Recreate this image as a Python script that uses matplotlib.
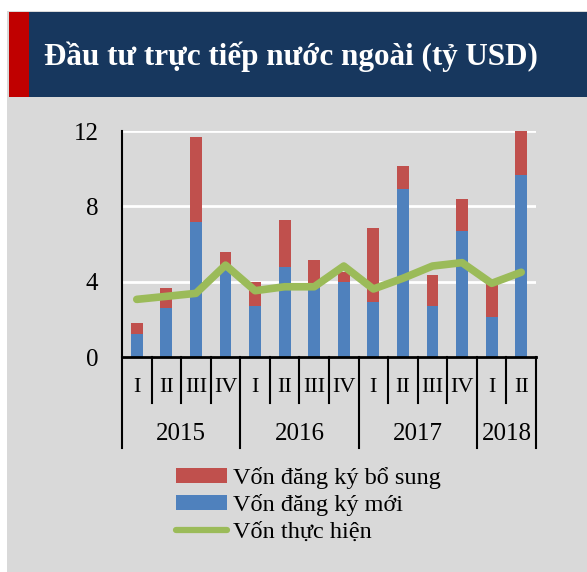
import matplotlib
matplotlib.use("Agg")
import matplotlib.pyplot as plt
from matplotlib.patches import Rectangle, Patch
from matplotlib.lines import Line2D
import matplotlib.transforms as mtransforms

quarters = ["I", "II", "III", "IV", "I", "II", "III", "IV", "I", "II", "III", "IV", "I", "II"]
years = ["2015", "2016", "2017", "2018"]
quarters_per_year = [4, 4, 4, 2]
new_reg = [1.20, 2.60, 7.19, 4.60, 2.73, 4.76, 3.65, 4.00, 2.92, 8.92, 2.71, 6.69, 2.11, 9.68]
total_reg = [1.82, 3.65, 11.67, 5.59, 4.00, 7.26, 5.13, 4.50, 6.87, 10.13, 4.34, 8.37, 3.90, 12.02]
additional = [t - n for t, n in zip(total_reg, new_reg)]
disbursed = [3.06, 3.22, 3.38, 4.88, 3.52, 3.73, 3.73, 4.83, 3.61, 4.18, 4.83, 5.01, 3.91, 4.50]
yticks = [0, 4, 8, 12]

title = "Đầu tư trực tiếp nước ngoài (tỷ USD)"
lab_add = "Vốn đăng ký bổ sung"
lab_new = "Vốn đăng ký mới"
lab_dis = "Vốn thực hiện"

RED = "#C0504D"
BLUE = "#4F81BD"
GREEN = "#9BBB59"
GRAY = "#D9D9D9"
NAVY = "#17375E"

plt.rcParams["font.family"] = ["Liberation Serif", "DejaVu Serif"]

W, H = 587, 572
fig = plt.figure(figsize=(W / 100, H / 100), dpi=100)
fig.patch.set_facecolor("white")

def px(x0, y0, w, h):
    return (x0 / W, 1 - (y0 + h) / H, w / W, h / H)

fig.add_artist(Rectangle(px(7, 11, 580, 561)[:2], 580 / W, 561 / H, transform=fig.transFigure,
                         facecolor=GRAY, edgecolor="none", zorder=0))
fig.add_artist(Rectangle(px(29, 12, 558, 85)[:2], 558 / W, 85 / H, transform=fig.transFigure,
                         facecolor=NAVY, edgecolor="none", zorder=1))
fig.add_artist(Rectangle(px(9, 12, 20, 85)[:2], 20 / W, 85 / H, transform=fig.transFigure,
                         facecolor="#C00000", edgecolor="none", zorder=1))
fig.text(44 / W, 1 - 57 / H, title, color="white", fontsize=22.4, fontweight="bold",
         ha="left", va="center", zorder=2)

ax = fig.add_axes([122 / W, 1 - 357 / H, 414 / W, 226 / H])
ax.set_facecolor("none")
x = list(range(len(quarters)))
ax.bar(x, new_reg, width=0.4, color=BLUE, zorder=2, clip_on=False)
ax.bar(x, additional, bottom=new_reg, width=0.4, color=RED, zorder=2, clip_on=False)
ax.plot(x, disbursed, color=GREEN, linewidth=5.5, solid_capstyle="round", zorder=3)

ax.set_xlim(-0.5, len(quarters) - 0.5)
ax.set_ylim(0, 12)
ax.set_yticks(yticks)
ax.set_yticklabels([str(v) for v in yticks], fontsize=18)
ax.tick_params(axis="y", length=0, pad=17)
ax.set_xticks([])
ax.grid(axis="y", color="white", linewidth=2, zorder=0)
ax.set_axisbelow(True)
for s in ["top", "right"]:
    ax.spines[s].set_visible(False)
ax.spines["left"].set_linewidth(1.5)
ax.spines["bottom"].set_linewidth(2)
ax.spines["left"].set_color("black")
ax.spines["bottom"].set_color("black")

trans = mtransforms.blended_transform_factory(ax.transData, ax.transAxes)
short_y = -46 / 226
long_y = -91 / 226
bounds = [i - 0.5 for i in range(len(quarters) + 1)]
year_edges = [-0.5]
for n in quarters_per_year:
    year_edges.append(year_edges[-1] + n)
for b in bounds:
    yb = long_y if b in year_edges else short_y
    ax.add_line(Line2D([b, b], [0, yb], transform=trans, color="black", linewidth=1.5, clip_on=False))
for i, q in enumerate(quarters):
    ax.text(i, -31 / 226, q, transform=trans, ha="center", va="center", fontsize=16)
for j, yname in enumerate(years):
    cx = (year_edges[j] + year_edges[j + 1]) / 2
    ax.text(cx, -77 / 226, yname, transform=trans, ha="center", va="center", fontsize=18)

handles = [Patch(facecolor=RED, edgecolor="none"),
           Patch(facecolor=BLUE, edgecolor="none"),
           Line2D([0], [0], color=GREEN, linewidth=4.5, solid_capstyle="round")]
fig.legend(handles, [lab_add, lab_new, lab_dis], loc="upper left",
           bbox_to_anchor=(176 / W, 1 - 467 / H), frameon=False, fontsize=17.5,
           handlelength=2.1, handleheight=0.55, handletextpad=0.25, labelspacing=0.22,
           borderpad=0, borderaxespad=0)

fig.savefig("out.png", dpi=100, facecolor=fig.get_facecolor())
